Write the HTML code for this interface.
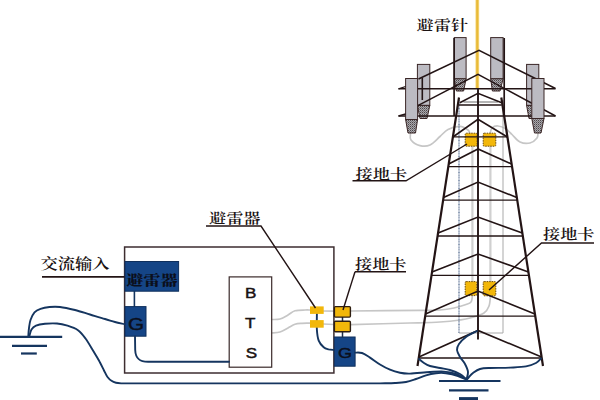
<!DOCTYPE html>
<html lang="zh-CN">
<head>
<meta charset="utf-8">
<title>基站防雷接地示意图</title>
<style>
html,body{margin:0;padding:0;background:#fff;}
body{width:600px;height:400px;overflow:hidden;position:relative;}
svg{position:absolute;left:0;top:0;display:block;}
.lbl{font-family:"Liberation Serif","Noto Serif CJK SC",serif;font-weight:600;fill:#1a1212;}
.bts{font-family:"Liberation Sans","Noto Sans CJK SC",sans-serif;font-weight:400;fill:#1a1212;stroke:#1a1212;stroke-width:0.45;}
.dk{stroke:#231415;fill:none;}
.bl{stroke:#15355f;fill:none;stroke-linecap:round;stroke-linejoin:round;}
.gy{stroke:#c6c6c6;fill:none;stroke-linecap:round;}
.ant{fill:#bcbbc2;stroke:#3a2626;stroke-width:1;}
.tap{fill:url(#st);stroke:#3a2626;stroke-width:1;}
.clip{fill:#f2b70a;stroke:#6a4a10;stroke-width:1;}
.navy{fill:#154586;stroke:#0f2f5c;stroke-width:1;}
</style>
</head>
<body>
<svg width="600" height="400" viewBox="0 0 600 400">
<defs>
<pattern id="st" width="2" height="2" patternUnits="userSpaceOnUse">
<rect width="2" height="2" fill="#a9a8ad"/>
<rect width="1" height="1" fill="#4e4749"/>
<rect x="1" y="1" width="1" height="1" fill="#7a7679"/>
</pattern>
</defs>
<rect x="0" y="0" width="600" height="400" fill="#ffffff"/>

<!-- lightning rod -->
<g id="rod">
<line x1="477.300" y1="0" x2="477.300" y2="89" stroke="#f6dc8c" stroke-width="3.800"/>
<line x1="477.300" y1="0" x2="477.300" y2="89" stroke="#e9ba38" stroke-width="2.200"/>
</g>

<!-- gray feeder cables -->
<g id="feeders" class="gy" stroke-width="1.700">
<path d="M410.5 133 C410.6 134.2 409.4 137.9 411 140 C412.6 142.1 416.8 144.8 420 145.6 C423.2 146.4 426.7 146.5 430 145 C433.3 143.5 437 139.1 440 136.5 C443 133.9 444.7 131.2 448 129.5 C451.3 127.8 456.7 126.3 460 126.4 C463.3 126.5 466.3 128.7 468 130 C469.7 131.3 469.7 133.3 470 134"/>
<path d="M538 133 C537.8 133.8 538.3 136.3 537 138 C535.7 139.7 532.8 142.3 530 143 C527.2 143.7 523 143.4 520 142 C517 140.6 514.3 136.7 512 134.5 C509.7 132.3 508.3 130.4 506 129 C503.7 127.6 500.3 126.2 498 126 C495.7 125.8 493.3 126.7 492 128 C490.7 129.3 490.3 133 490 134"/>
<line x1="472.400" y1="146" x2="472.400" y2="283" stroke="#d0d0d0" stroke-width="2.200"/>
<line x1="490.400" y1="146" x2="490.400" y2="283" stroke="#d0d0d0" stroke-width="2.200"/>
<path d="M472.4 296 C472.2 297 472.1 300.6 471 302 C469.9 303.4 468.8 303.5 466 304.5 C463.2 305.5 458.3 307.1 454 308 C449.7 308.9 445.7 309.6 440 310 C434.3 310.4 434.8 310.2 420 310.4 C405.2 310.6 362.5 310.9 351 311"/>
<path d="M490.4 296 C490.2 297.7 490.1 303.2 489 306 C487.9 308.8 487.2 311 484 313 C480.8 315 474 316.8 470 318 C466 319.2 465 319.3 460 320 C455 320.7 448.3 321.5 440 322 C431.7 322.5 424.8 322.6 410 323 C395.2 323.4 360.8 324.3 351 324.6"/>
<path d="M271.5 319.5 C272.9 319.4 277.2 319.8 280 319 C282.8 318.2 285.5 316.4 288 315 C290.5 313.6 292.2 311.6 295 310.8 C297.8 310 302.5 310.1 305 310 C307.5 309.9 309.2 310 310 310"/>
<path d="M271.5 333 C272.9 332.8 277.2 332.8 280 332 C282.8 331.2 285.5 329.3 288 328 C290.5 326.7 292.7 325.1 295 324.3 C297.3 323.5 299.5 323.5 302 323.3 C304.5 323.1 308.7 323.2 310 323.2"/>
<line x1="323.500" y1="311" x2="334" y2="311.200"/>
<line x1="323.500" y1="324" x2="334" y2="324.500"/>
</g>
<g id="tower-thin">
<line x1="459" y1="100" x2="459" y2="333" stroke="#3a567f" stroke-width="1.100" stroke-dasharray="1 0.600"/>
<path d="M459 333 H503 V100" stroke="#a9a9a9" stroke-width="1" fill="none"/>
</g>

<!-- antennas (rear) -->
<g id="antennas">
<rect class="ant" x="417.400" y="64.400" width="12.400" height="41"/>
<path class="tap" d="M417.400 105.400 H429.800 L427 118.500 H420 Z"/>
<rect class="ant" x="526.600" y="64.400" width="12.200" height="41"/>
<path class="tap" d="M526.600 105.400 H538.800 L536 118.500 H529 Z"/>
<rect class="ant" x="454.300" y="37.600" width="11.800" height="41.200"/>
<path class="tap" d="M454.300 78.800 H466.100 L463.600 91 H456.400 Z"/>
<rect class="ant" x="490.700" y="37.600" width="12.400" height="41.200"/>
<path class="tap" d="M490.700 78.800 H503.100 L500 91 H492.400 Z"/>
</g>

<!-- tower head -->
<g id="head" class="dk" stroke-width="1.500" stroke-linejoin="miter">
<path d="M418.500 79 L479 50.400 L555.500 88.500"/>
<path d="M417.800 105.600 L478 74.300 L555.500 116"/>
<line x1="398.500" y1="88.800" x2="555.500" y2="88.800" stroke-width="1.400"/>
<line x1="398.500" y1="116" x2="555.500" y2="116" stroke-width="1.400"/>
<line x1="454.100" y1="38" x2="454.100" y2="116" stroke-width="1.700"/>
<line x1="504.200" y1="38" x2="504.200" y2="116" stroke-width="1.700"/>
<line x1="422.300" y1="78" x2="422.300" y2="100" stroke-width="1.600"/>
</g>

<!-- antennas (front) -->
<g id="antennas-front">
<rect class="ant" x="405.600" y="78.500" width="12" height="41"/>
<path class="tap" d="M405.600 119.500 H417.600 L415.500 133 H408 Z"/>
<rect class="ant" x="531.800" y="78.500" width="12.200" height="40"/>
<path class="tap" d="M531.800 118.500 H544 L541 133 H534.500 Z"/>
<path class="dk" stroke-width="1.300" d="M398.500 88.800 L405.600 86.500 M398.500 116 L405.600 114"/>
</g>

<!-- tower clips -->
<g id="tclips">
<rect class="clip" x="465.200" y="133.200" width="11.900" height="13" rx="1" stroke-dasharray="1.500 1"/>
<rect class="clip" x="483.200" y="133.200" width="12.600" height="13" rx="1" stroke-dasharray="1.500 1"/>
<rect class="clip" x="465.200" y="281.600" width="11.600" height="14" rx="1" stroke-dasharray="1.500 1"/>
<rect class="clip" x="483.200" y="281.600" width="12.600" height="14.200" rx="1" stroke-dasharray="1.500 1"/>
</g>

<!-- tower body -->
<g id="tower" class="dk">
<g stroke-width="1.3">
<line x1="463.5" y1="102" x2="498" y2="102" stroke="#9c9c9c"/>
<line x1="459" y1="105" x2="501.700" y2="105"/>
<line x1="452.9" y1="136.8" x2="507.4" y2="136.8"/>
<line x1="448.3" y1="166.6" x2="512" y2="166.6"/>
<line x1="443.1" y1="200.2" x2="517.3" y2="200.2"/>
<line x1="437.6" y1="236" x2="522.8" y2="236"/>
<line x1="431.5" y1="275.4" x2="528.9" y2="275.4"/>
<line x1="425.2" y1="316.2" x2="535.3" y2="316.2"/>
<line x1="418.7" y1="358" x2="541.8" y2="358"/>
</g>
<g stroke-width="1.6">
<path d="M459.800 102.800 L478 93.300 L501.700 102.800"/>
<path d="M452.9 137 L478 119.3 L507.4 137"/>
<path d="M448.7 164 L478 149 L511.6 164"/>
<path d="M443.5 197.5 L478 182 L516.8 197.5"/>
<path d="M438.1 233 L478 217 L522.3 233"/>
<path d="M432 272 L478 254 L528.4 272"/>
<path d="M425.5 314 L478 291 L534.9 314"/>
<path d="M418.9 357 L478 330.4 L541.6 357"/>
</g>
<line x1="478" y1="88.500" x2="478" y2="339.600" stroke-width="1.9"/>
<path d="M459 97.500 L417.500 366" stroke-width="2.2"/>
<path d="M501.300 97.500 L543 366" stroke-width="2.2"/>
</g>

<!-- equipment room -->
<g id="room">
<rect x="124.600" y="247" width="209.300" height="126" fill="none" stroke="#3d2d30" stroke-width="1.500"/>
<rect x="229.200" y="276.900" width="42.500" height="90.300" fill="#ffffff" stroke="#3a2a2a" stroke-width="1.200"/>
<line x1="134.400" y1="291" x2="134.400" y2="307" stroke="#15355f" stroke-width="1.600"/>
<rect class="navy" x="125" y="261.500" width="53.600" height="29.700"/>
<rect class="navy" x="125" y="306.600" width="21" height="29.600"/>
<rect class="navy" x="334.300" y="337" width="20.800" height="29.200"/>
</g>

<!-- blue grounding wires -->
<g id="wires" class="bl" stroke-width="1.900">
<path d="M124.6 324.2 C123 323.8 118.3 322.9 115 322 C111.7 321.1 109.2 320.2 105 319 C100.8 317.8 95 316 90 314.5 C85 313 80 311.2 75 310 C70 308.8 64.2 307.5 60 307 C55.8 306.5 52.8 306.7 49.5 307 C46.2 307.3 43 307.9 40.5 308.8 C38 309.7 36.2 310.4 34.5 312.3 C32.8 314.2 31.4 317.4 30.5 320 C29.6 322.6 29.4 325.2 29 328 C28.6 330.8 28.4 335.1 28.3 336.5"/>
<path d="M29.3 336.5 C29.7 335.3 30.4 331.3 31.5 329.5 C32.6 327.7 33.8 326.6 36 325.7 C38.2 324.8 41.5 324.2 45 323.8 C48.5 323.4 53.2 323.2 57 323.5 C60.8 323.8 64 324.6 67.5 325.7 C71 326.8 75 328.1 78 330.2 C81 332.3 83 335.1 85.5 338.5 C88 341.9 91 347.2 93 350.5 C95 353.8 96.3 356 97.5 358 C98.7 360 98.9 360.4 100 362.5 C101.1 364.6 102.8 368.1 104 370.5 C105.2 372.9 106.2 375.3 107.5 377 C108.8 378.7 110.1 379.9 111.5 380.8 C112.9 381.8 114.2 382.3 116 382.7 C117.8 383.1 121 383.3 122 383.4 L380 383.4  C382.5 383.3 390.7 383.2 395 383 C399.3 382.8 402.5 382.7 406 382 C409.5 381.3 412.7 380.1 416 379 C419.3 377.9 422.7 376.3 426 375.3 C429.3 374.3 432.7 373.6 436 373.2 C439.3 372.8 442.3 372.7 446 373.2 C449.7 373.7 454.7 374.9 458 376 C461.3 377.1 464.7 378.9 466 379.5"/>
<path d="M135 336.500 L135.200 350 C135.500 358 139 361.800 148 361.800 L229 361.800"/>
<path d="M316.9 313.5 C316.9 316.2 316.6 325.5 316.9 330 C317.2 334.5 317.6 337.7 318.7 340.6 C319.8 343.5 322 345.8 323.7 347.3 C325.4 348.8 327 348.9 328.7 349.4 C330.4 349.8 333.1 349.9 334 350"/>
<path d="M355 352.6 C356.2 352.7 359.5 352.2 362 353 C364.5 353.8 367 355.7 370 357.6 C373 359.5 376.7 362.5 380 364.5 C383.3 366.5 386.7 368.3 390 369.7 C393.3 371.1 396.7 372.1 400 372.8 C403.3 373.5 405 373.7 410 373.6 C415 373.5 424.3 372.3 430 372 C435.7 371.7 439.7 371.3 444 371.6 C448.3 371.9 452.3 372.8 456 374 C459.7 375.2 464.3 378.2 466 379"/>
<path d="M477 331 C475.2 332 469 334.8 466 337 C463 339.2 460.5 341.8 459 344 C457.5 346.2 456.8 347.8 457 350 C457.2 352.2 458.7 354.7 460 357 C461.3 359.3 463.7 361.5 465 364 C466.3 366.5 467.8 369.4 468 372 C468.2 374.6 466.8 378.2 466.5 379.5"/>
<path d="M419 359 C419.8 359.7 422.2 361.8 424 363 C425.8 364.2 427.3 365.2 430 366 C432.7 366.8 436.7 367.3 440 368 C443.3 368.7 446.7 369 450 370 C453.3 371 457.3 372.5 460 374 C462.7 375.5 465 378.2 466 379"/>
<path d="M541 358.5 C540.2 359.2 538.5 361.7 536 363 C533.5 364.3 530.3 365.6 526 366.4 C521.7 367.2 516 367.3 510 367.6 C504 367.9 495 367.8 490 368 C485 368.2 482.8 368.2 480 369 C477.2 369.8 474.8 371.7 473 373 C471.2 374.3 470.1 375.8 469 377 C467.9 378.2 466.9 379.5 466.5 380"/>
</g>

<!-- room clips -->
<g id="rclips">
<rect x="310" y="306.400" width="13.700" height="7.500" fill="#f2b70a"/>
<rect x="310" y="320.100" width="13.700" height="7.600" fill="#f2b70a"/>
<line x1="342.500" y1="317" x2="342.500" y2="337.500" stroke="#1d2f4a" stroke-width="1.500"/>
<rect x="334.400" y="306.600" width="16" height="10.500" rx="1" fill="#f2b70a" stroke="#2e1e12" stroke-width="1.400"/>
<rect x="334.400" y="321.200" width="16" height="10.500" rx="1" fill="#f2b70a" stroke="#2e1e12" stroke-width="1.400"/>
</g>

<!-- ground symbols -->
<g id="grounds" stroke="#15355f" fill="none">
<line x1="0" y1="336.900" x2="62.200" y2="336.900" stroke-width="2.200"/>
<line x1="12" y1="345.900" x2="47" y2="345.900" stroke-width="2.200"/>
<line x1="21" y1="353.500" x2="36.800" y2="353.500" stroke-width="2.200"/>
<line x1="439" y1="381" x2="500.500" y2="381" stroke-width="2.200"/>
<line x1="449" y1="390.300" x2="488.500" y2="390.300" stroke-width="2.200"/>
<line x1="459" y1="398.600" x2="478" y2="398.600" stroke-width="3"/>
</g>

<!-- leader lines -->
<g id="leaders" class="dk" stroke-width="1.400">
<path d="M42 276.900 H124.600" stroke-width="1.600"/>
<path d="M206 226 H261 L315.500 308"/>
<path d="M352.500 180.800 H406 L467 144"/>
<path d="M355 271.800 H406"/>
<path d="M355 271.800 L343 310"/>
<path d="M594 243 H541.500 L489 290"/>
</g>

<!-- labels -->
<g id="labels">
<text class="lbl" transform="translate(416.6,30.1) scale(1.29,1)" font-size="13.3">避雷针</text>
<text class="lbl" transform="translate(355.6,178.5) scale(1.29,1)" font-size="13.3">接地卡</text>
<text class="lbl" transform="translate(543,239) scale(1.29,1)" font-size="13.3">接地卡</text>
<text class="lbl" transform="translate(355,269) scale(1.29,1)" font-size="13.3">接地卡</text>
<text class="lbl" transform="translate(209,223) scale(1.29,1)" font-size="13.3">避雷器</text>
<text class="lbl" transform="translate(40.5,269.3) scale(1.21,1)" font-size="14.3">交流输入</text>
<text class="lbl" transform="translate(126.2,284.9) scale(1.29,1)" font-size="13.3" style="fill:#0b0f1c;font-weight:900">避雷器</text>
<text class="bts" transform="translate(250.6,298.1) scale(1.22,1)" font-size="14" text-anchor="middle">B</text>
<text class="bts" transform="translate(250.2,328.3) scale(1.22,1)" font-size="14" text-anchor="middle">T</text>
<text class="bts" transform="translate(251.4,358) scale(1.22,1)" font-size="14" text-anchor="middle">S</text>
<text class="bts" transform="translate(136,329.6) scale(1.25,1)" font-size="16.5" text-anchor="middle" style="fill:#0b0f1c;stroke:#0b0f1c">G</text>
<text class="bts" transform="translate(345,358.3) scale(1.2,1)" font-size="15" text-anchor="middle" style="fill:#0b0f1c;stroke:#0b0f1c">G</text>
</g>
</svg>
</body>
</html>
